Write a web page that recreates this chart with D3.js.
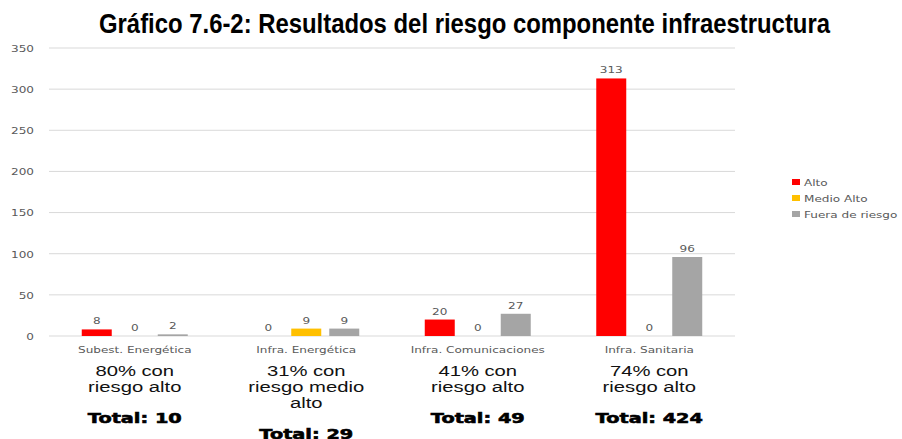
<!DOCTYPE html>
<html>
<head>
<meta charset="utf-8">
<script src="https://cdn.jsdelivr.net/npm/d3@7/dist/d3.min.js"></script>
<style>
  html, body { margin: 0; padding: 0; background: #fff; }
  svg { display: block; }
</style>
</head>
<body>
<svg id="chart" width="902" height="439"></svg>
<script>
// Infrastructure risk component, counts per category and risk level
const categories = ["Subest. Energética", "Infra. Energética", "Infra. Comunicaciones", "Infra. Sanitaria"];
const series = ["Alto", "Medio Alto", "Fuera de riesgo"];
const alto = [8, 0, 20, 313];
const medioAlto = [0, 9, 0, 0];
const fueraDeRiesgo = [2, 9, 27, 96];
const colors = ["#FF0000", "#FFC000", "#A5A5A5"];
const yTicks = [0, 50, 100, 150, 200, 250, 300, 350];
const notes = [
  ["80% con", "riesgo alto"],
  ["31% con", "riesgo medio", "alto"],
  ["41% con", "riesgo alto"],
  ["74% con", "riesgo alto"]
];
const totals = ["Total: 10", "Total: 29", "Total: 49", "Total: 424"];
const title = "Gráfico 7.6-2: Resultados del riesgo componente infraestructura";

const values = [alto, medioAlto, fueraDeRiesgo];
const svg = d3.select("#chart");

const plot = { left: 49, right: 735, top: 48, bottom: 336 };

const x0 = d3.scaleBand().domain(categories).range([plot.left, plot.right]).padding(0);
const x1 = d3.scaleBand().domain(series).range([0, x0.bandwidth()])
  .paddingInner(8 / 38).paddingOuter(0.862);
const y = d3.scaleLinear().domain([0, 350]).range([plot.bottom, plot.top]);

const small = "'DejaVu Sans', Verdana, sans-serif";
const sx = 1.27; // wide rendering of the small labels

// helper: horizontally stretched text anchored at (x, y)
function stretchedText(sel, x, yv, s) {
  return sel.attr("transform", `translate(${x},${yv}) scale(${s},1)`);
}

// gridlines
svg.append("g").selectAll("line").data(yTicks).join("line")
  .attr("x1", plot.left).attr("x2", plot.right)
  .attr("y1", d => y(d)).attr("y2", d => y(d))
  .attr("stroke", "#d9d9d9").attr("stroke-width", 1);

// y axis labels
const yAxis = svg.append("g")
  .attr("transform", `translate(${plot.left},0)`)
  .call(d3.axisLeft(y).tickValues(yTicks).tickSize(0).tickPadding(0));
yAxis.select(".domain").remove();
yAxis.selectAll("text").remove();
yAxis.selectAll(".tick").append("text")
  .attr("text-anchor", "end")
  .attr("dy", "0.35em")
  .attr("transform", `translate(-15,0) scale(${sx},1)`)
  .attr("fill", "#595959")
  .style("font-family", small).style("font-size", "9.5px")
  .text(d => d);

// bars
const groups = svg.append("g").selectAll("g").data(categories).join("g")
  .attr("transform", d => `translate(${x0(d)},0)`);

const cells = groups.selectAll("g.cell")
  .data((c, i) => series.map((s, k) => ({ s, k, v: values[k][i] })))
  .join("g").attr("class", "cell");

cells.append("rect")
  .attr("x", d => x1(d.s))
  .attr("width", x1.bandwidth())
  .attr("y", d => y(d.v))
  .attr("height", d => y(0) - y(d.v))
  .attr("fill", d => colors[d.k]);

cells.append("text")
  .each(function (d) {
    stretchedText(d3.select(this), x1(d.s) + x1.bandwidth() / 2, y(d.v) - 5, sx);
  })
  .attr("text-anchor", "middle")
  .attr("fill", "#595959")
  .style("font-family", small).style("font-size", "9.5px")
  .text(d => d.v);

// category labels
svg.append("g").selectAll("text").data(categories).join("text")
  .each(function (d) {
    stretchedText(d3.select(this), x0(d) + x0.bandwidth() / 2, 352.5, sx);
  })
  .attr("text-anchor", "middle")
  .attr("fill", "#595959")
  .style("font-family", small).style("font-size", "9.5px")
  .text(d => d);

// notes under each category
const noteG = svg.append("g").selectAll("g").data(categories).join("g")
  .attr("transform", d => `translate(${x0(d) + x0.bandwidth() / 2},0)`);

noteG.each(function (c, i) {
  const g = d3.select(this);
  notes[i].forEach((line, j) => {
    stretchedText(g.append("text"), 0, 376 + j * 16, 1.35)
      .attr("text-anchor", "middle")
      .attr("fill", "#111")
      .style("font-family", "'Liberation Sans', Arial, sans-serif")
      .style("font-size", "15px")
      .text(line);
  });
  const ty = 376 + (notes[i].length - 1) * 16 + 31;
  stretchedText(g.append("text"), 0, ty, 1.33)
    .attr("text-anchor", "middle")
    .attr("fill", "#000")
    .attr("stroke", "#000").attr("stroke-width", 0.6)
    .style("font-family", "'DejaVu Sans', sans-serif")
    .style("font-weight", "bold")
    .style("font-size", "14.5px")
    .text(totals[i]);
});

// legend
const legend = svg.append("g").selectAll("g").data(series).join("g")
  .attr("transform", (d, i) => `translate(792,${182 + i * 16})`);
legend.append("rect")
  .attr("x", 0).attr("y", -3).attr("width", 8).attr("height", 6)
  .attr("fill", (d, i) => colors[i]);
legend.append("text")
  .attr("transform", `translate(12,3.5) scale(${sx},1)`)
  .attr("fill", "#595959")
  .style("font-family", small).style("font-size", "9.5px")
  .text(d => d);

// title
svg.append("text")
  .attr("x", 99).attr("y", 33)
  .attr("textLength", 731)
  .attr("lengthAdjust", "spacingAndGlyphs")
  .attr("fill", "#000")
  .style("font-family", "'Liberation Sans Narrow', 'Arial Narrow', 'Liberation Sans', Arial, sans-serif")
  .style("font-weight", "bold")
  .style("font-size", "28px")
  .text(title);
</script>
</body>
</html>
